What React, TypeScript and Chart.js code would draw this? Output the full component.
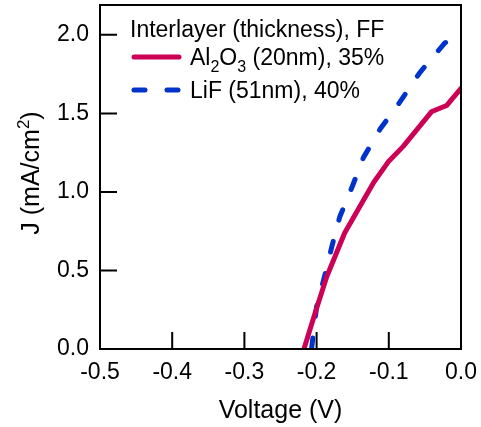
import React, { useEffect, useRef } from "react";
import { Chart, registerables } from "chart.js";

Chart.register(...registerables);

// ---- data ----
const voltageAl2O3 = [-0.2175, -0.202, -0.186, -0.161, -0.121, -0.101, -0.08, -0.041, -0.02, 0.0];
const currentAl2O3 = [0, 0.23, 0.46, 0.74, 1.06, 1.19, 1.29, 1.51, 1.55, 1.66];
const voltageLiF = [-0.207, -0.2, -0.188, -0.179, -0.168, -0.151, -0.135, -0.112, -0.085, -0.057, -0.022, -0.006];
const currentLiF = [0, 0.27, 0.48, 0.65, 0.84, 1.03, 1.22, 1.4, 1.57, 1.76, 1.95, 1.98];
const xTicks = [-0.5, -0.4, -0.3, -0.2, -0.1, 0.0];
const yTicks = [0, 0.5, 1.0, 1.5, 2.0];
const legendTitle = "Interlayer (thickness), FF";
const labelAl2O3 = [
  { t: "Al" },
  { t: "2", sub: true },
  { t: "O" },
  { t: "3", sub: true },
  { t: " (20nm), 35%" },
];
const labelLiF = [{ t: "LiF (51nm), 40%" }];
const xTitle = "Voltage (V)";
const yTitle = [{ t: "J (mA/cm" }, { t: "2", sup: true }, { t: ")" }];

const RED = "#cc0055";
const BLUE = "#0033cc";
const FONT = "'Liberation Sans', Arial, sans-serif";

type Part = { t: string; sub?: boolean; sup?: boolean };

function drawRich(ctx: CanvasRenderingContext2D, parts: Part[], x: number, y: number, size: number, small: number) {
  let cx = x;
  for (const p of parts) {
    const s = p.sub || p.sup ? small : size;
    ctx.font = `${s}px ${FONT}`;
    const dy = p.sub ? size * 0.3 : p.sup ? -size * 0.42 : 0;
    ctx.fillText(p.t, cx, y + dy);
    cx += ctx.measureText(p.t).width;
  }
  return cx - x;
}

function richWidth(ctx: CanvasRenderingContext2D, parts: Part[], size: number, small: number) {
  let w = 0;
  for (const p of parts) {
    ctx.font = `${p.sub || p.sup ? small : size}px ${FONT}`;
    w += ctx.measureText(p.t).width;
  }
  return w;
}

const decorPlugin = {
  id: "decor",
  afterDraw(chart: any) {
    const ctx: CanvasRenderingContext2D = chart.ctx;
    const { left, right, top, bottom } = chart.chartArea;
    const xs = chart.scales.x;
    const ys = chart.scales.y;
    ctx.save();
    ctx.strokeStyle = "#000";
    ctx.lineWidth = 2;
    ctx.strokeRect(left, top, right - left, bottom - top);
    ctx.beginPath();
    for (const v of xTicks) {
      const px = xs.getPixelForValue(v);
      ctx.moveTo(px, bottom);
      ctx.lineTo(px, bottom - 17);
    }
    for (const v of yTicks) {
      const py = ys.getPixelForValue(v);
      ctx.moveTo(left, py);
      ctx.lineTo(left + 17, py);
    }
    ctx.stroke();

    // legend
    ctx.fillStyle = "#000";
    ctx.textBaseline = "alphabetic";
    ctx.textAlign = "left";
    ctx.font = `23px ${FONT}`;
    ctx.fillText(legendTitle, 130, 37);
    ctx.lineWidth = 5;
    ctx.lineCap = "round";
    ctx.strokeStyle = RED;
    ctx.beginPath();
    ctx.moveTo(134, 57);
    ctx.lineTo(179, 57);
    ctx.stroke();
    ctx.strokeStyle = BLUE;
    ctx.setLineDash([11, 22]);
    ctx.beginPath();
    ctx.moveTo(134, 90);
    ctx.lineTo(179, 90);
    ctx.stroke();
    ctx.setLineDash([]);
    drawRich(ctx, labelAl2O3, 190, 65, 23, 16);
    drawRich(ctx, labelLiF, 190, 98, 23, 16);

    // axis titles
    ctx.font = `25px ${FONT}`;
    ctx.textAlign = "center";
    ctx.fillText(xTitle, (left + right) / 2, 418);
    ctx.textAlign = "left";
    const w = richWidth(ctx, yTitle, 25, 17);
    ctx.translate(39, 173);
    ctx.rotate(-Math.PI / 2);
    drawRich(ctx, yTitle, -w / 2, 0, 25, 17);
    ctx.restore();
  },
};

export default function App() {
  const ref = useRef<HTMLCanvasElement | null>(null);
  useEffect(() => {
    document.body.style.margin = "0";
    const canvas = ref.current;
    if (!canvas) return;
    const chart = new Chart(canvas, {
      type: "line",
      data: {
        datasets: [
          {
            label: "Al2O3 (20nm), 35%",
            data: voltageAl2O3.map((v, i) => ({ x: v, y: currentAl2O3[i] })),
            borderColor: RED,
            borderWidth: 5,
            pointRadius: 0,
            tension: 0,
            borderCapStyle: "round",
            borderJoinStyle: "round",
            fill: false,
          },
          {
            label: "LiF (51nm), 40%",
            data: voltageLiF.map((v, i) => ({ x: v, y: currentLiF[i] })),
            borderColor: BLUE,
            borderWidth: 5,
            borderDash: [11, 22],
            borderCapStyle: "round",
            borderJoinStyle: "round",
            pointRadius: 0,
            tension: 0,
            fill: false,
          },
        ],
      },
      options: {
        animation: false,
        responsive: true,
        maintainAspectRatio: false,
        layout: { padding: { left: 0, top: 5, right: 20, bottom: 0 } },
        plugins: { legend: { display: false }, tooltip: { enabled: false } },
        scales: {
          x: {
            type: "linear",
            min: -0.5,
            max: 0,
            grid: { display: false, drawTicks: false },
            border: { display: false },
            afterBuildTicks: (s: any) => {
              s.ticks = xTicks.map((v) => ({ value: v }));
            },
            afterFit: (s: any) => {
              s.height = 78;
              s.paddingLeft = 0;
              s.paddingRight = 0;
              s.paddingTop = 0;
              s.paddingBottom = 0;
            },
            ticks: {
              autoSkip: false,
              maxRotation: 0,
              padding: 10,
              color: "#000",
              font: { family: FONT, size: 23 },
              callback: (v: any) => Number(v).toFixed(1),
            },
          },
          y: {
            type: "linear",
            min: 0,
            max: 2.19,
            grid: { display: false, drawTicks: false },
            border: { display: false },
            afterBuildTicks: (s: any) => {
              s.ticks = yTicks.map((v) => ({ value: v }));
            },
            afterFit: (s: any) => {
              s.width = 100;
              s.paddingLeft = 0;
              s.paddingRight = 0;
              s.paddingTop = 0;
              s.paddingBottom = 0;
            },
            ticks: {
              autoSkip: false,
              padding: 11,
              color: "#000",
              font: { family: FONT, size: 23 },
              callback: (v: any) => Number(v).toFixed(1),
            },
          },
        },
      } as any,
      plugins: [decorPlugin],
    });
    return () => chart.destroy();
  }, []);
  return (
    <div style={{ position: "relative", width: 481, height: 427 }}>
      <canvas ref={ref} />
    </div>
  );
}
